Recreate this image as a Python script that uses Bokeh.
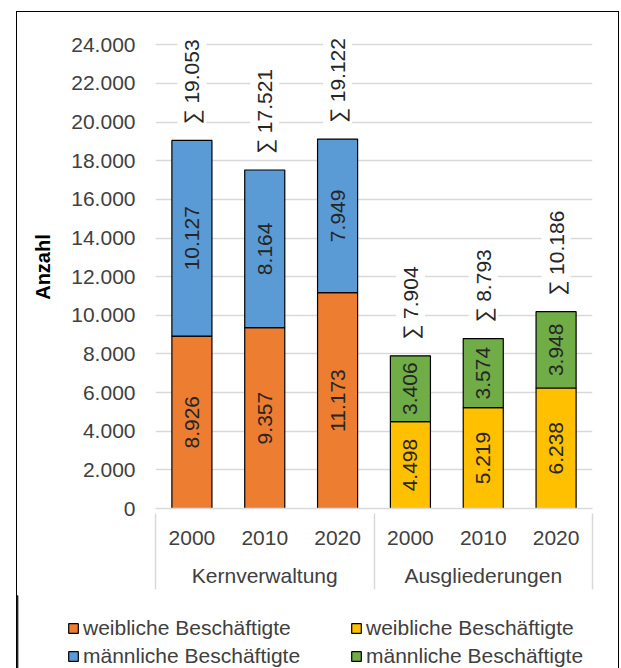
import math
from bokeh.plotting import figure
from bokeh.layouts import column
from bokeh.models import (FactorRange, Range1d, FixedTicker, Legend, LegendItem,
                          LinearAxis, ColumnDataSource)
from bokeh.core.properties import value
from bokeh.embed import file_html
from bokeh.resources import INLINE

# ---------------- data ----------------
groups = ["Kernverwaltung", "Ausgliederungen"]
years = ["2000", "2010", "2020"]
kern_female = [8926, 9357, 11173]
kern_male = [10127, 8164, 7949]
ausg_female = [4498, 5219, 6238]
ausg_male = [3406, 3574, 3948]
y_ticks = [0, 2000, 4000, 6000, 8000, 10000, 12000, 14000, 16000, 18000, 20000, 22000, 24000]
series_labels = ["weibliche Beschäftigte", "männliche Beschäftigte"]
y_title = "Anzahl"

# ---------------- styles ----------------
FONT = "Liberation Sans"
TXT = "#404040"
ORANGE, BLUE, YELLOW, GREEN = "#ED7D31", "#5B9BD5", "#FFC000", "#70AD47"
GRID = "#D9D9D9"


def de(n):
    return f"{n:,}".replace(",", ".")


factors = [(g, y) for g in groups for y in years]
n_fac = len(factors)
group_edges = [0, len(years), n_fac]

p = figure(
    x_range=FactorRange(*factors, factor_padding=0, group_padding=0, range_padding=0),
    y_range=Range1d(0, 25000),
    width=601, height=583,
    output_backend="svg", toolbar_location=None,
    min_border_left=138, min_border_right=26, min_border_top=13, min_border_bottom=87,
    outline_line_color=None, frame_align=False,
)


def make_source(grp, fem, mal):
    xs = [(grp, y) for y in years]
    return ColumnDataSource(dict(
        x=xs, female=fem, male=mal,
        fmid=[f / 2 for f in fem],
        mmid=[f + m / 2 for f, m in zip(fem, mal)],
        total=[f + m for f, m in zip(fem, mal)],
        flab=[de(f) for f in fem],
        mlab=[de(m) for m in mal],
        slab=["∑ " + de(f + m) for f, m in zip(fem, mal)],
    ))


src_k = make_source(groups[0], kern_female, kern_male)
src_a = make_source(groups[1], ausg_female, ausg_male)

p.vbar_stack(["female", "male"], x="x", width=0.55, color=[ORANGE, BLUE],
             line_color="black", line_width=1.2, source=src_k)
p.vbar_stack(["female", "male"], x="x", width=0.55, color=[YELLOW, GREEN],
             line_color="black", line_width=1.2, source=src_a)

for src in (src_k, src_a):
    for ycol, tcol in (("fmid", "flab"), ("mmid", "mlab")):
        p.text(x="x", y=ycol, text=tcol, source=src, angle=math.pi / 2,
               text_align="center", text_baseline="middle",
               text_font=value(FONT), text_font_size="21px", text_color="#262626")
    p.text(x="x", y="total", text="slab", source=src, angle=math.pi / 2,
           text_align="left", text_baseline="middle", y_offset=-13,
           text_font=value(FONT), text_font_size="21px", text_color="#262626",
           background_fill_color="white", padding=3)

# axes
p.yaxis.ticker = FixedTicker(ticks=y_ticks)
p.yaxis.major_label_overrides = {t: de(t) for t in y_ticks}
p.yaxis.axis_line_color = None
p.yaxis.major_tick_line_color = None
p.yaxis.minor_tick_line_color = None
p.yaxis.major_label_standoff = 14
p.yaxis.major_label_text_font = FONT
p.yaxis.major_label_text_font_size = "21px"
p.yaxis.major_label_text_color = TXT
p.yaxis.axis_label = y_title
p.yaxis.axis_label_text_font = FONT
p.yaxis.axis_label_text_font_size = "20px"
p.yaxis.axis_label_text_font_style = "bold"
p.yaxis.axis_label_text_color = "black"
p.yaxis.axis_label_standoff = 14

xa = p.xaxis[0]
xa.axis_line_color = GRID
xa.axis_line_width = 1.5
xa.major_tick_line_color = None
xa.minor_tick_line_color = None
xa.separator_line_color = None
xa.major_label_standoff = 16
xa.major_label_text_font = FONT
xa.major_label_text_font_size = "21px"
xa.major_label_text_line_height = 0.96
xa.major_label_text_color = TXT
xa.group_text_font = FONT
xa.group_text_font_size = "21px"
xa.group_text_font_style = "normal"
xa.group_text_color = TXT

# box lines of the category axis (left edge, group separator, right edge)
box_axis = LinearAxis(ticker=FixedTicker(ticks=group_edges),
                      major_label_overrides={t: "" for t in group_edges},
                      major_label_standoff=0, major_label_text_font_size="1px",
                      axis_line_color=None, minor_tick_line_color=None,
                      major_tick_line_color=GRID, major_tick_line_width=1.5,
                      major_tick_in=76, major_tick_out=0)
p.add_layout(box_axis, "below")

p.xgrid.grid_line_color = None
p.ygrid.ticker = FixedTicker(ticks=y_ticks)
p.ygrid.grid_line_color = GRID
p.ygrid.grid_line_width = 1.5

# ---------------- legend panel ----------------
q = figure(width=601, height=73, output_backend="svg", toolbar_location=None,
           x_axis_location=None, y_axis_location=None, min_border=0,
           x_range=Range1d(0, 1), y_range=Range1d(0, 1), frame_align=False,
           outline_line_color=None)
q.xgrid.visible = False
q.ygrid.visible = False
swatches = []
for c in (ORANGE, BLUE, YELLOW, GREEN):
    # legend proxies, placed outside the visible range
    swatches.append(q.vbar(x=[-1], top=[1], width=0.1, fill_color=c,
                           line_color="black", line_width=1.2))
legend = Legend(
    items=[LegendItem(label=series_labels[i % 2], renderers=[r])
           for i, r in enumerate(swatches)],
    location=(50, 0), orientation="vertical", ncols=2,
    glyph_width=12, glyph_height=12, label_standoff=4,
    label_width=263, label_height=24, spacing=4, padding=0, margin=0,
    border_line_color=None, background_fill_alpha=0,
    label_text_font=FONT, label_text_font_size="21px", label_text_color=TXT,
)
q.add_layout(legend)

layout = column(p, q, spacing=0,
                styles={"position": "relative", "left": "16px", "top": "11px",
                        "border-top": "1px solid black",
                        "border-left": "1px solid black",
                        "border-right": "1px solid black"})

open("out.html", "w").write(file_html(layout, INLINE))
